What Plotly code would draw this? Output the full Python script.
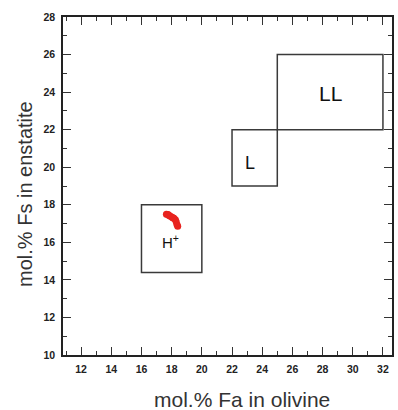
import plotly.graph_objects as go

# Data
fa_points = [17.65, 17.75, 17.85, 17.95, 18.05, 18.15, 18.25, 18.3, 18.35, 18.4, 17.8, 18.1]
fs_points = [17.5, 17.48, 17.42, 17.38, 17.32, 17.28, 17.2, 17.1, 16.95, 16.85, 17.45, 17.3]

box_names = ["H", "L", "LL"]
box_x0 = [16, 22, 25]
box_x1 = [20, 25, 32]
box_y0 = [14.4, 19, 22]
box_y1 = [18, 22, 26]

label_text = ["H<sup>+</sup>", "L", "LL"]
label_x = [17.9, 23.2, 28.5]
label_y = [16.05, 20.2, 23.9]
label_size = [15, 18, 21]

x_ticks = [12, 14, 16, 18, 20, 22, 24, 26, 28, 30, 32]
y_ticks = [10, 12, 14, 16, 18, 20, 22, 24, 26, 28]
x_title = "mol.% Fa in olivine"
y_title = "mol.% Fs in enstatite"

fig = go.Figure()
fig.add_trace(go.Scatter(
    x=fa_points, y=fs_points, mode="markers",
    marker=dict(color="#e8231f", size=7, line=dict(width=0)),
    showlegend=False, hoverinfo="skip"))

for x0, x1, y0, y1 in zip(box_x0, box_x1, box_y0, box_y1):
    fig.add_shape(type="rect", x0=x0, x1=x1, y0=y0, y1=y1,
                  line=dict(color="#3a3a3a", width=1.5), fillcolor="rgba(0,0,0,0)")

for t, x, y, s in zip(label_text, label_x, label_y, label_size):
    fig.add_annotation(x=x, y=y, text=t, showarrow=False,
                       font=dict(family="Liberation Sans, Arial", size=s, color="#111"))

fig.add_annotation(text=x_title, xref="paper", yref="paper", x=0.544, y=-0.131,
                   xanchor="center", yanchor="middle", showarrow=False,
                   font=dict(family="Liberation Sans, Arial", size=21, color="#333"))
fig.add_annotation(text=y_title, xref="paper", yref="paper", x=-0.115, y=0.477,
                   xanchor="center", yanchor="middle", showarrow=False, textangle=-90,
                   font=dict(family="Liberation Sans, Arial", size=20, color="#333"))

axis_common = dict(
    showgrid=False, zeroline=False, showline=True, linecolor="#222", linewidth=1.5,
    mirror="allticks", ticks="inside", ticklen=8, tickwidth=1.2, tickcolor="#333",
    tickfont=dict(family="Liberation Sans, Arial", size=10.5, color="#222"),
    minor=dict(ticks="inside", ticklen=4, tickwidth=1, tickcolor="#333", dtick=1),
)

fig.update_xaxes(range=[10.8, 32.6], tickmode="array", tickvals=x_ticks,
                 ticktext=[f"<b>{v}</b>" for v in x_ticks], ticklabelstandoff=4,
                 **axis_common)
fig.update_yaxes(range=[10, 28], tickmode="array", tickvals=y_ticks,
                 ticktext=[f"<b>{v}</b>" for v in y_ticks], ticklabelstandoff=4,
                 **axis_common)

fig.update_layout(
    width=398, height=410,
    margin=dict(l=63, r=4, t=17, b=55),
    paper_bgcolor="white", plot_bgcolor="white",
)

fig.write_html("out.html", config={"displayModeBar": False},
               post_script="document.body.style.margin='0';document.body.style.overflow='hidden';")
